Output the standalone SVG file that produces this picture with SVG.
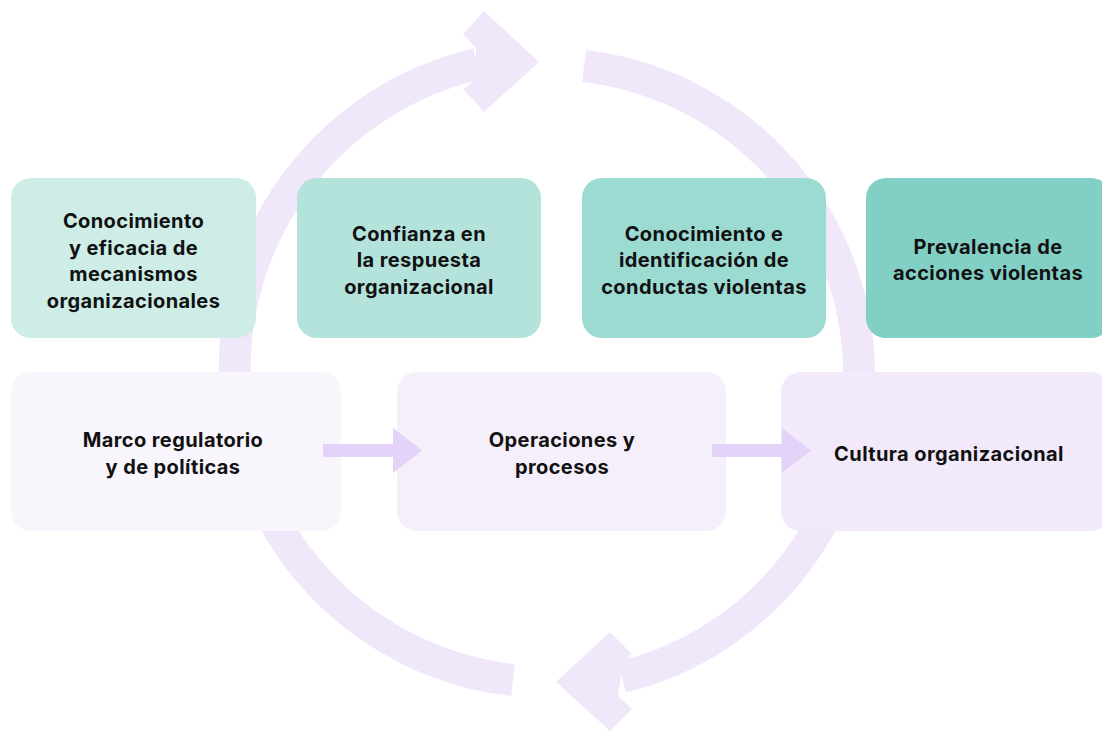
<svg xmlns="http://www.w3.org/2000/svg" width="1102" height="731" viewBox="0 0 1102 731">
<style>
.ring{fill:none;stroke:#f0e7fa;stroke-width:32;stroke-linecap:butt}
.head{fill:#f0e7fa}
.flow{fill:#e4d3f8}
.t{font-family:Inter,"Liberation Sans",sans-serif;font-weight:700;font-size:20px;letter-spacing:0.4px;fill:#111;text-anchor:middle}
</style>
<rect width="1102" height="731" fill="#fff"/>
<g id="connectors">
  <path class="ring" d="M 513 680 A 313 313 0 0 1 477 64"/>
  <polygon class="head" points="463,34 484,11 539,62 484,112 463,89 476,80 476,48"/>
  <path class="ring" d="M 584 66 A 311 311 0 0 1 622 677"/>
  <polygon class="head" points="556,682 610,632 632,654 623,663 618,696 632,709 610,731"/>
</g>
<g id="n1"><rect x="11" y="178" width="245" height="160" rx="20" fill="#cdede6"/>
<text class="t" x="133.5" y="228">Conocimiento</text><text class="t" x="133.5" y="254.5">y eficacia de</text><text class="t" x="133.5" y="281">mecanismos</text><text class="t" x="133.5" y="307.5">organizacionales</text></g>
<g id="n2"><rect x="297" y="178" width="244" height="160" rx="20" fill="#b4e3dc"/>
<text class="t" x="419" y="240.5">Confianza en</text><text class="t" x="419" y="267">la respuesta</text><text class="t" x="419" y="293.5">organizacional</text></g>
<g id="n3"><rect x="582" y="178" width="244" height="160" rx="20" fill="#9cdbd2"/>
<text class="t" x="704" y="240.5">Conocimiento e</text><text class="t" x="704" y="267">identificación de</text><text class="t" x="704" y="293.5">conductas violentas</text></g>
<g id="n4"><rect x="866" y="178" width="245" height="160" rx="20" fill="#82d0c5"/>
<text class="t" x="988" y="253.5">Prevalencia de</text><text class="t" x="988" y="280">acciones violentas</text></g>
<g id="nA"><rect x="11" y="372" width="330" height="159" rx="20" fill="#f8f5fd"/>
<text class="t" x="173" y="447">Marco regulatorio</text><text class="t" x="173" y="473.5">y de políticas</text></g>
<g id="nB"><rect x="397" y="372" width="329" height="159" rx="20" fill="#f5effc"/>
<text class="t" x="562" y="447">Operaciones y</text><text class="t" x="562" y="473.5">procesos</text></g>
<g id="nC"><rect x="781" y="372" width="330" height="159" rx="20" fill="#f2eafb"/>
<text class="t" x="949" y="460.5">Cultura organizacional</text></g>
<g id="flow-arrows">
  <polygon class="flow" points="323,444 393,444 393,428 422,450.5 393,473 393,457 323,457"/>
  <polygon class="flow" points="712,444 782,444 782,428 811,450.5 782,473 782,457 712,457"/>
</g>
</svg>
